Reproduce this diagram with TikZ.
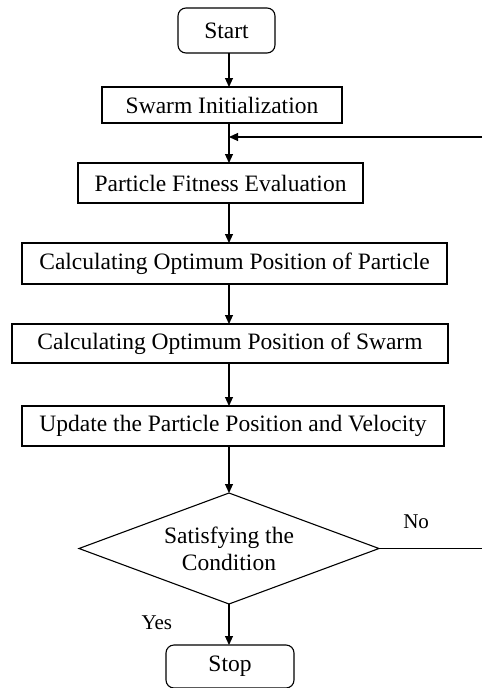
\documentclass[tikz,border=0pt]{standalone}
\usepackage{fontspec}
\setmainfont{Liberation Serif}
\usetikzlibrary{positioning,shapes.geometric,arrows.meta}

\begin{document}
\begin{tikzpicture}[
  x=1pt, y=-1pt,
  node distance = 40pt,
  font=\fontsize{23.5}{27}\selectfont,
  pnode/.style={rectangle, text centered, draw=black, line width=1.1pt, inner sep=3pt, outer sep=0pt},
  tnode/.style={pnode, rounded corners=8pt},
  dnode/.style={diamond, align=center, draw=black, line width=1.1pt, inner sep=0pt, outer sep=0pt, aspect=2.7},
  lnode/.style={font=\fontsize{21}{25}\selectfont},
  arw/.style={-{Triangle[length=9pt,width=8pt]}, line width=1.1pt},
  linkline/.style={-, line width=1.1pt}
  ]

\useasboundingbox (0,0) rectangle (482,688);
\coordinate (spine) at (229,0);
\coordinate (backin) at (482,137);
\coordinate (rim) at (482,0);

\node [tnode, minimum width=97pt, minimum height=45pt] (start) at (226.5,30.5) {Start};
\node [pnode, below=34pt of start, xshift=-4.5pt, minimum width=240pt, minimum height=36pt] (swarm) {Swarm Initialization};
\node [pnode, below=of swarm, xshift=-1.5pt, minimum width=285pt, minimum height=40pt] (fit) {Particle Fitness Evaluation};
\node [pnode, below=of fit, xshift=14pt, minimum width=425pt, minimum height=41pt] (pbest) {Calculating Optimum Position of Particle};
\node [pnode, below=of pbest, xshift=-4.5pt, minimum width=436pt, minimum height=39pt] (gbest) {Calculating Optimum Position of Swarm};
\node [pnode, below=43pt of gbest, xshift=3pt, minimum width=422pt, minimum height=40pt] (upd) {Update the Particle Position and Velocity};
\node [dnode, below=47pt of upd, xshift=-4pt, minimum width=300pt, minimum height=111pt] (cond) {Satisfying the\\Condition};
\node [tnode, below=41pt of cond, xshift=1pt, minimum width=128pt, minimum height=43pt] (stop) {Stop};

\coordinate (merge) at (spine |- backin);
\coordinate (noend) at (cond.east -| rim);

\draw [arw] (start.south -| spine) -- (swarm.north -| spine);
\draw [arw] (swarm.south -| spine) -- (fit.north -| spine);
\draw [arw] (backin) -- (merge);
\draw [arw] (fit.south -| spine) -- (pbest.north -| spine);
\draw [arw] (pbest.south -| spine) -- (gbest.north -| spine);
\draw [arw] (gbest.south -| spine) -- (upd.north -| spine);
\draw [arw] (upd.south -| spine) -- (cond.north);
\draw [arw] (cond.south) -- node [lnode, pos=0.45, left=53pt] {Yes} (stop.north -| cond.south);

\draw [linkline] (cond.east) -- node [lnode, pos=0.36, above=16pt] {No} (noend);

\end{tikzpicture}
\end{document}
